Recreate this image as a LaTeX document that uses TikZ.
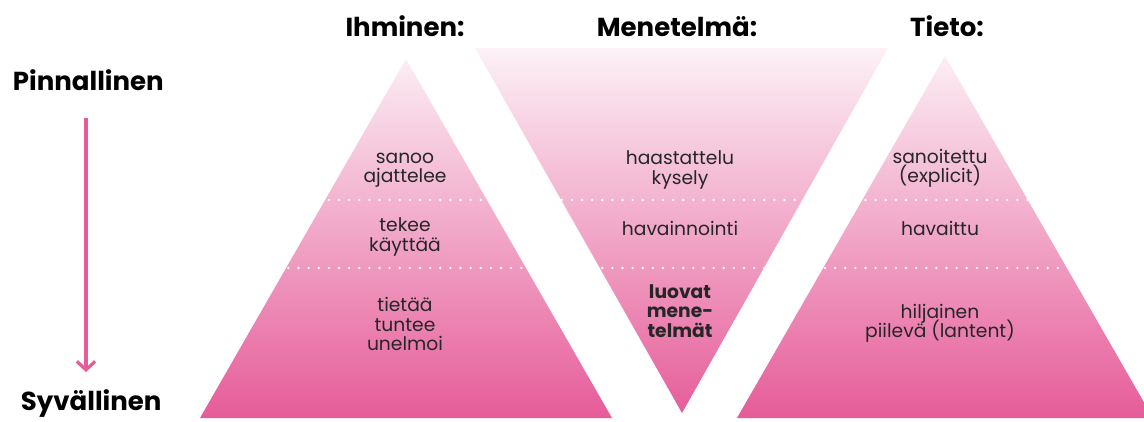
\documentclass[tikz,border=0pt]{standalone}
\usepackage{fontspec}
\setmainfont{Poppins}
\usetikzlibrary{positioning,arrows.meta}
\definecolor{pinkdeep}{RGB}{230,92,153}
\definecolor{pinkmid}{RGB}{240,168,200}
\definecolor{pinklight}{RGB}{252,241,246}
\tikzset{head/.style={
  font=\bfseries\fontsize{18.5}{18.5}\selectfont,
  anchor=base
}}
\tikzset{level/.style={
  font={\fontsize{13.3}{13.7}\selectfont\lineskiplimit=-20pt\relax},
  align=center,
  text=black!85,
  inner sep=0pt
}}
\tikzset{levelsep/.style={
  white, line width=1.8pt,
  dash pattern=on 0pt off 7.2pt,
  line cap=round
}}
\tikzset{deptharrow/.style={
  pinkdeep, line width=2.3pt,
  -{Straight Barb[length=6pt,width=13pt,line width=2.3pt]}
}}

\begin{document}
\begin{tikzpicture}[x=0.025cm,y=-0.025cm]
  \useasboundingbox (0,0) rectangle (1144,421);

  % corners of the three triangles
  \coordinate (ihtop) at (406,59);
  \coordinate (ihleft) at (200,418);
  \coordinate (ihright) at (612,418);
  \coordinate (meleft) at (475,48);
  \coordinate (meright) at (888,48);
  \coordinate (metip) at (682,413);
  \coordinate (titop) at (945,56);
  \coordinate (tileft) at (737,418);
  \coordinate (tiright) at (1153,418);

  \begin{scope}
    \clip (ihtop) -- (ihright) -- (ihleft) -- cycle
          (meleft) -- (meright) -- (metip) -- cycle
          (titop) -- (tiright) -- (tileft) -- cycle;
    \shade[top color=pinklight, middle color=pinkmid, bottom color=pinkdeep]
      (180,48) rectangle (1160,418);
  \end{scope}

  \draw[levelsep] (258,200) -- (1062,200);
  \draw[levelsep] (258,268) -- (1062,268);

  % column heads
  \node[head] (ihminen) at (405,36) {Ihminen:};
  \node[head] (menetelma) at (677,36) {Menetelmä:};
  \node[head] (tieto) at (947,36) {Tieto:};
  \node[head, anchor=base west] (pinta) at (8,90) {Pinnallinen};
  \node[head, anchor=base west] (syva) at (16,410) {Syvällinen};

  \coordinate (arrtop) at (86,118);
  \coordinate (arrbot) at (86,372);
  \draw[deptharrow] (arrtop) -- (arrbot);

  % levels
  \node[level] (sanoo) at (405,170) {sanoo\\ajattelee};
  \node[level] (tekee) at (405,237) {tekee\\käyttää};
  \node[level] (tietaa) at (405,324) {tietää\\tuntee\\unelmoi};
  \node[level] (haast) at (680,170) {haastattelu\\kysely};
  \node[level] (havain) at (680,228) {havainnointi};
  \node[level, font={\bfseries\fontsize{13.3}{13.7}\selectfont}] (luovat) at (680,311) {luovat\\mene-\\telmät};
  \node[level] (sanoit) at (940,168) {sanoitettu\\(explicit)};
  \node[level] (havaittu) at (940,228) {havaittu};
  \node[level] (hiljainen) at (940,323) {hiljainen\\piilevä (lantent)};
\end{tikzpicture}
\end{document}
